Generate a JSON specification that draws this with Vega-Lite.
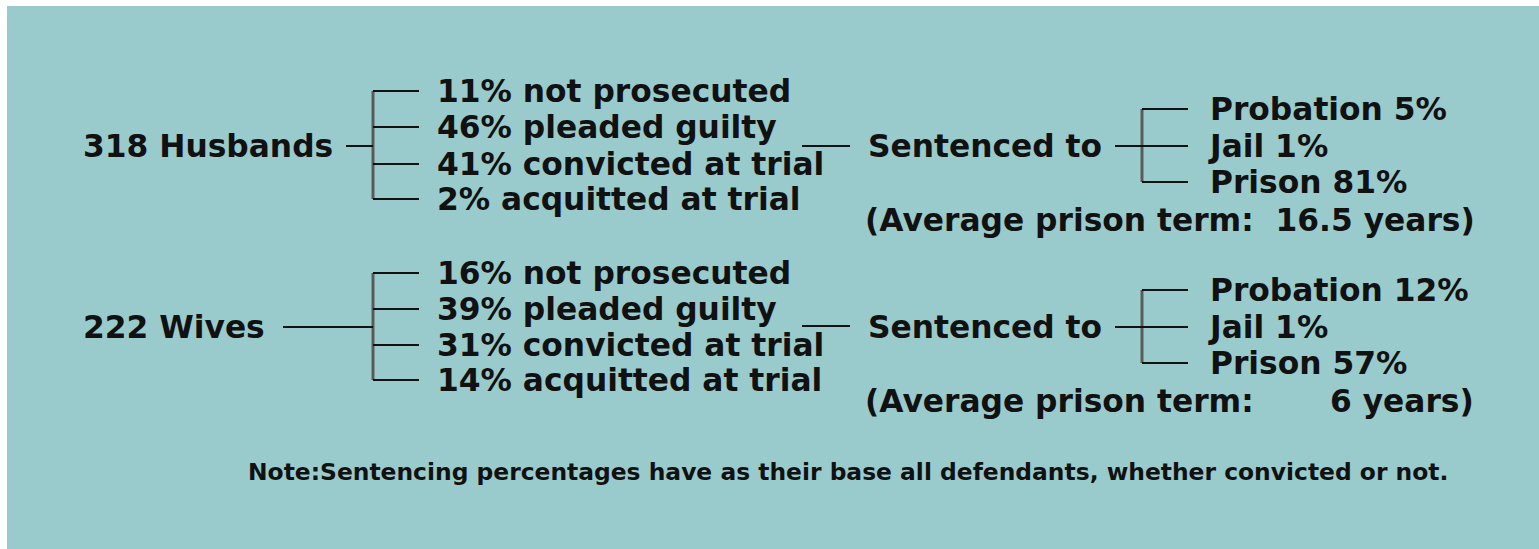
{
  "$schema": "https://vega.github.io/schema/vega-lite/v6.json",
  "width": 1539,
  "height": 549,
  "autosize": {"type": "fit", "contains": "padding"},
  "padding": {"left": 7, "top": 6, "right": 0, "bottom": 0},
  "background": "#ffffff",
  "config": {"view": {"stroke": null, "fill": "#99cbcc"}},
  "datasets": {
    "brackets": [
      {"x": 373, "y": 91, "y2": 199},
      {"x": 373, "y": 273, "y2": 380},
      {"x": 1142, "y": 109, "y2": 182},
      {"x": 1142, "y": 290, "y2": 363}
    ],
    "connectors": [
      {"x": 346, "x2": 373, "y": 146},
      {"x": 373, "x2": 419, "y": 91},
      {"x": 373, "x2": 419, "y": 127},
      {"x": 373, "x2": 419, "y": 164},
      {"x": 373, "x2": 419, "y": 199},
      {"x": 802, "x2": 850, "y": 146},
      {"x": 1115, "x2": 1188, "y": 146},
      {"x": 1142, "x2": 1188, "y": 109},
      {"x": 1142, "x2": 1188, "y": 182},
      {"x": 283, "x2": 373, "y": 327},
      {"x": 373, "x2": 419, "y": 273},
      {"x": 373, "x2": 419, "y": 309},
      {"x": 373, "x2": 419, "y": 345},
      {"x": 373, "x2": 419, "y": 380},
      {"x": 802, "x2": 850, "y": 326},
      {"x": 1115, "x2": 1188, "y": 327},
      {"x": 1142, "x2": 1188, "y": 290},
      {"x": 1142, "x2": 1188, "y": 363}
    ],
    "labels": [
      {"x": 83, "y": 146, "label": "318 Husbands"},
      {"x": 437, "y": 91, "label": "11% not prosecuted"},
      {"x": 437, "y": 127, "label": "46% pleaded guilty"},
      {"x": 437, "y": 164, "label": "41% convicted at trial"},
      {"x": 437, "y": 199, "label": "2% acquitted at trial"},
      {"x": 868, "y": 146, "label": "Sentenced to"},
      {"x": 1210, "y": 109, "label": "Probation 5%"},
      {"x": 1210, "y": 146, "label": "Jail 1%"},
      {"x": 1210, "y": 182, "label": "Prison 81%"},
      {"x": 865, "y": 220, "label": "(Average prison term: \u00a016.5 years)"},
      {"x": 83, "y": 327, "label": "222 Wives"},
      {"x": 437, "y": 273, "label": "16% not prosecuted"},
      {"x": 437, "y": 309, "label": "39% pleaded guilty"},
      {"x": 437, "y": 345, "label": "31% convicted at trial"},
      {"x": 437, "y": 380, "label": "14% acquitted at trial"},
      {"x": 868, "y": 327, "label": "Sentenced to"},
      {"x": 1210, "y": 290, "label": "Probation 12%"},
      {"x": 1210, "y": 327, "label": "Jail 1%"},
      {"x": 1210, "y": 363, "label": "Prison 57%"},
      {"x": 865, "y": 401, "label": "(Average prison term: \u00a0\u00a0\u00a0\u00a0\u00a0\u00a06 years)"}
    ],
    "note": [
      {"x": 248, "y": 472, "label": "Note:Sentencing percentages have as their base all defendants, whether convicted or not."}
    ]
  },
  "layer": [
    {
      "data": {"name": "brackets"},
      "mark": {"type": "rule", "color": "#5a5a5a", "strokeWidth": 3},
      "encoding": {
        "x": {"field": "x", "type": "quantitative", "scale": {"domain": [7, 1539], "nice": false, "zero": false}, "axis": null},
        "y": {"field": "y", "type": "quantitative", "scale": {"domain": [6, 549], "nice": false, "zero": false, "reverse": true}, "axis": null},
        "y2": {"field": "y2"}
      }
    },
    {
      "data": {"name": "connectors"},
      "mark": {"type": "rule", "color": "#111111", "strokeWidth": 2},
      "encoding": {
        "x": {"field": "x", "type": "quantitative", "scale": {"domain": [7, 1539], "nice": false, "zero": false}, "axis": null},
        "x2": {"field": "x2"},
        "y": {"field": "y", "type": "quantitative", "scale": {"domain": [6, 549], "nice": false, "zero": false, "reverse": true}, "axis": null}
      }
    },
    {
      "data": {"name": "labels"},
      "mark": {"type": "text", "align": "left", "baseline": "middle", "dy": 2, "font": "DejaVu Sans", "fontWeight": "bold", "fontSize": 31.3, "color": "#111111"},
      "encoding": {
        "x": {"field": "x", "type": "quantitative", "scale": {"domain": [7, 1539], "nice": false, "zero": false}, "axis": null},
        "y": {"field": "y", "type": "quantitative", "scale": {"domain": [6, 549], "nice": false, "zero": false, "reverse": true}, "axis": null},
        "text": {"field": "label"}
      }
    },
    {
      "data": {"name": "note"},
      "mark": {"type": "text", "align": "left", "baseline": "middle", "dy": 1, "font": "DejaVu Sans", "fontWeight": "bold", "fontSize": 23.4, "color": "#111111"},
      "encoding": {
        "x": {"field": "x", "type": "quantitative", "scale": {"domain": [7, 1539], "nice": false, "zero": false}, "axis": null},
        "y": {"field": "y", "type": "quantitative", "scale": {"domain": [6, 549], "nice": false, "zero": false, "reverse": true}, "axis": null},
        "text": {"field": "label"}
      }
    }
  ]
}
